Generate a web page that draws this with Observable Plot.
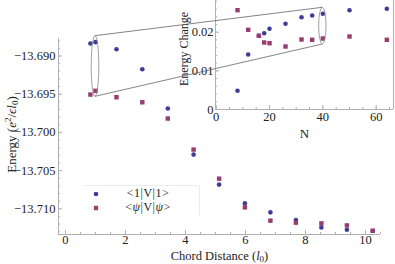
<!DOCTYPE html>
<html><head><meta charset="utf-8">
<script src="https://cdn.jsdelivr.net/npm/d3@7"></script>
<script src="https://cdn.jsdelivr.net/npm/@observablehq/plot@0.6"></script>
<style>
body{margin:0;background:#fff;}
#wrap{position:relative;width:395px;height:264px;overflow:hidden;font-family:"Liberation Serif",serif;}
#wrap > svg, #wrap > div{position:absolute;left:0;top:0;}
</style></head><body><div id="wrap"></div>
<script>
// ---- data ----
const chordDistance = [0.83, 1.00, 1.70, 2.56, 3.41, 4.27, 5.12, 5.98, 6.83, 7.68, 8.53, 9.38, 10.24];
const energyOne = [-13.68836, -13.68819, -13.68911, -13.69173, -13.69688, -13.70291, -13.70684, -13.70929, -13.71047, -13.71147, -13.71244, -13.71274, -13.71291];
const energyPsi = [-13.69505, -13.69456, -13.69540, -13.69606, -13.69819, -13.70225, -13.70606, -13.70982, -13.71156, -13.71182, -13.71191, -13.71218, -13.71287];
const systemSize = [8, 12, 16, 18, 20, 26, 32, 36, 40, 50, 64];
const changeOne = [0.00484, 0.01423, 0.01907, 0.01974, 0.02088, 0.02217, 0.02388, 0.02432, 0.02476, 0.02569, 0.02605];
const changePsi = [0.02569, 0.02062, 0.01907, 0.01734, 0.01715, 0.01630, 0.01811, 0.01803, 0.01837, 0.01889, 0.01803];
const seriesNames = ["<1|V|1>", "<ψ|V|ψ>"];
const seriesColors = ["#3d3d99", "#993d71"];
const mainXTicks = [0, 2, 4, 6, 8, 10];
const mainYTicks = [-13.690, -13.695, -13.700, -13.705, -13.710];
const insetXTicks = [0, 20, 40, 60];
const insetYTicks = [0, 0.01, 0.02];
const mainXLabel = "Chord Distance (l₀)";
const mainYLabel = "Energy (e²/ϵl₀)";
const insetXLabel = "N";
const insetYLabel = "Energy Change";
const zoomChord = 1.00;   // highlighted main point (chord distance)
const zoomN = 40;         // highlighted inset point (N)

// ---- layout ----
const axisColor = "#b0b0b0";
const textColor = "#222";
const font = '"Liberation Serif", serif';
const mainXDomain = [-0.233, 10.5];
const mainYDomain = [-13.71337, -13.68771];
const insetXDomain = [-0.26, 66.5];
const insetYDomain = [0, 0.0282];

const mainOne = chordDistance.map((x, i) => ({x, y: energyOne[i]}));
const mainPsi = chordDistance.map((x, i) => ({x, y: energyPsi[i]}));
const insetOne = systemSize.map((x, i) => ({x, y: changeOne[i]}));
const insetPsi = systemSize.map((x, i) => ({x, y: changePsi[i]}));

const minorMainX = d3.range(0, 10.51, 0.5);
const minorMainY = d3.range(-13.713, -13.6875, 0.001);
const minorInsetX = d3.range(0, 66, 5);
const minorInsetY = d3.range(0, 0.0281, 0.002);

const wrap = document.getElementById("wrap");

const main = Plot.plot({
  width: 395, height: 264,
  marginLeft: 58, marginRight: 15, marginTop: 38, marginBottom: 30,
  style: {fontFamily: font, fontSize: "12.5px", color: textColor, background: "transparent", overflow: "visible"},
  x: {domain: mainXDomain},
  y: {domain: mainYDomain},
  marks: [
    Plot.ruleX([mainXDomain[0]], {stroke: axisColor, strokeWidth: 1}),
    Plot.ruleY([mainYDomain[0]], {stroke: axisColor, strokeWidth: 1}),
    Plot.axisX(minorMainX, {tickSize: -2, tickFormat: () => "", stroke: axisColor, label: null}),
    Plot.axisY(minorMainY, {tickSize: -2, tickFormat: () => "", stroke: axisColor, label: null}),
    Plot.axisX(mainXTicks, {tickSize: -4, tickPadding: 5, stroke: axisColor, fill: textColor, label: null, tickFormat: d3.format("d")}),
    Plot.axisY(mainYTicks, {tickSize: -4, tickPadding: 7, stroke: axisColor, fill: textColor, label: null, tickFormat: d3.format(".3f")}),
    Plot.text([mainXLabel], {frameAnchor: "bottom", dy: 21.5, lineAnchor: "middle", textAnchor: "middle", fill: textColor, fontSize: 12.5}),
    Plot.text([mainYLabel], {frameAnchor: "left", dx: -47, dy: -2, rotate: -90, lineAnchor: "middle", textAnchor: "middle", fill: textColor, fontSize: 13}),
    Plot.dot(mainOne, {x: "x", y: "y", r: 2.3, fill: seriesColors[0], stroke: null, symbol: "circle"}),
    Plot.dot(mainPsi, {x: "x", y: "y", r: 2.5, fill: seriesColors[1], stroke: null, symbol: "square"})
  ]
});
wrap.appendChild(main);

// legend
const legend = document.createElement("div");
legend.style.cssText = "left:84px;top:185px;width:115px;height:29px;background:#fff;border-top:1px solid #ececec;border-right:1px solid #ececec;font-size:12px;color:" + textColor + ";";
seriesNames.forEach((name, i) => {
  const row = document.createElement("div");
  row.style.cssText = `position:absolute;left:0;top:${1 + i * 13.5}px;width:115px;height:13px;`;
  const sym = i === 0
    ? `<svg width="6" height="6" style="position:absolute;left:9px;top:4px"><circle cx="3" cy="3" r="2.3" fill="${seriesColors[0]}"/></svg>`
    : `<svg width="6" height="6" style="position:absolute;left:9px;top:4px"><rect x="0.8" y="0.8" width="4.4" height="4.4" fill="${seriesColors[1]}"/></svg>`;
  const label = name.replace(/</g, "&lt;").replace(/>/g, "&gt;").replace(/ψ/g, "<i>ψ</i>");
  row.innerHTML = sym + `<span style="position:absolute;display:block;left:30px;top:0;width:68px;height:13px;line-height:13px;text-align:center;letter-spacing:0.5px">${label}</span>`;
  legend.appendChild(row);
});
wrap.appendChild(legend);

const inset = Plot.plot({
  width: 395, height: 140,
  marginLeft: 215, marginRight: 2, marginTop: 0, marginBottom: 31,
  style: {fontFamily: font, fontSize: "12.5px", color: textColor, background: "transparent", overflow: "visible"},
  x: {domain: insetXDomain},
  y: {domain: insetYDomain},
  marks: [
    Plot.ruleX([insetXDomain[0], insetXDomain[1]], {stroke: axisColor, strokeWidth: 1}),
    Plot.ruleY([insetYDomain[0]], {stroke: axisColor, strokeWidth: 1}),
    Plot.axisX(minorInsetX, {tickSize: -2, tickFormat: () => "", stroke: axisColor, label: null}),
    Plot.axisY(minorInsetY, {tickSize: -2, tickFormat: () => "", stroke: axisColor, label: null}),
    Plot.axisX(insetXTicks, {tickSize: -4, tickPadding: 7, stroke: axisColor, fill: textColor, label: null, tickFormat: d3.format("d")}),
    Plot.axisY(insetYTicks, {tickSize: -4, tickPadding: 6, stroke: axisColor, fill: textColor, label: null, tickFormat: d => d === 0 ? "0" : d.toFixed(2)}),
    Plot.text([insetXLabel], {frameAnchor: "bottom", dy: 24, lineAnchor: "middle", textAnchor: "middle", fill: textColor, fontSize: 13}),
    Plot.text([insetYLabel], {frameAnchor: "left", dx: -31, dy: -6, rotate: -90, lineAnchor: "middle", textAnchor: "middle", fill: textColor, fontSize: 12}),
    Plot.dot(insetOne, {x: "x", y: "y", r: 2.3, fill: seriesColors[0], stroke: null, symbol: "circle"}),
    Plot.dot(insetPsi, {x: "x", y: "y", r: 2.5, fill: seriesColors[1], stroke: null, symbol: "square"})
  ]
});
wrap.appendChild(inset);

// rich text for labels (italics, sub/superscripts)
function enrich(svg, plain, html) {
  d3.select(svg).selectAll("text").filter(function () { return this.textContent === plain; })
    .each(function () { this.innerHTML = html; });
}
enrich(main, mainXLabel, `Chord Distance (<tspan font-style="italic">l</tspan><tspan dy="2" font-size="9">0</tspan><tspan dy="-2">)</tspan>`);
enrich(main, mainYLabel, `Energy (<tspan font-style="italic">e</tspan><tspan dy="-5" font-size="9">2</tspan><tspan dy="5">/</tspan><tspan font-style="italic">ϵl</tspan><tspan dy="2" font-size="9">0</tspan><tspan dy="-2">)</tspan>`);

// zoom annotation: ellipses + connecting lines, positioned through both plots' scales
const mx = main.scale("x"), my = main.scale("y");
const ix = inset.scale("x"), iy = inset.scale("y");
const mi = chordDistance.indexOf(zoomChord);
const ii = systemSize.indexOf(zoomN);
const m = {cx: mx.apply(chordDistance[mi]), y1: my.apply(energyOne[mi]), y2: my.apply(energyPsi[mi])};
const n = {cx: ix.apply(systemSize[ii]), y1: iy.apply(changeOne[ii]), y2: iy.apply(changePsi[ii])};
const pad = 6;
const ell = (o, rx) => ({cx: o.cx, cy: (o.y1 + o.y2) / 2, rx, ry: Math.abs(o.y2 - o.y1) / 2 + pad});
const e1 = ell(m, 3.8), e2 = ell(n, 3.7);
const over = d3.create("svg").attr("width", 395).attr("height", 264);
over.selectAll("ellipse").data([e1, e2]).join("ellipse")
  .attr("cx", d => d.cx).attr("cy", d => d.cy).attr("rx", d => d.rx).attr("ry", d => d.ry)
  .attr("fill", "none").attr("stroke", "#888").attr("stroke-width", 0.8);
over.selectAll("line").data([-1, 1]).join("line")
  .attr("x1", e1.cx).attr("y1", s => e1.cy + s * e1.ry)
  .attr("x2", e2.cx).attr("y2", s => e2.cy + s * e2.ry)
  .attr("stroke", "#666").attr("stroke-width", 0.8);
wrap.appendChild(over.node());
</script></body></html>
